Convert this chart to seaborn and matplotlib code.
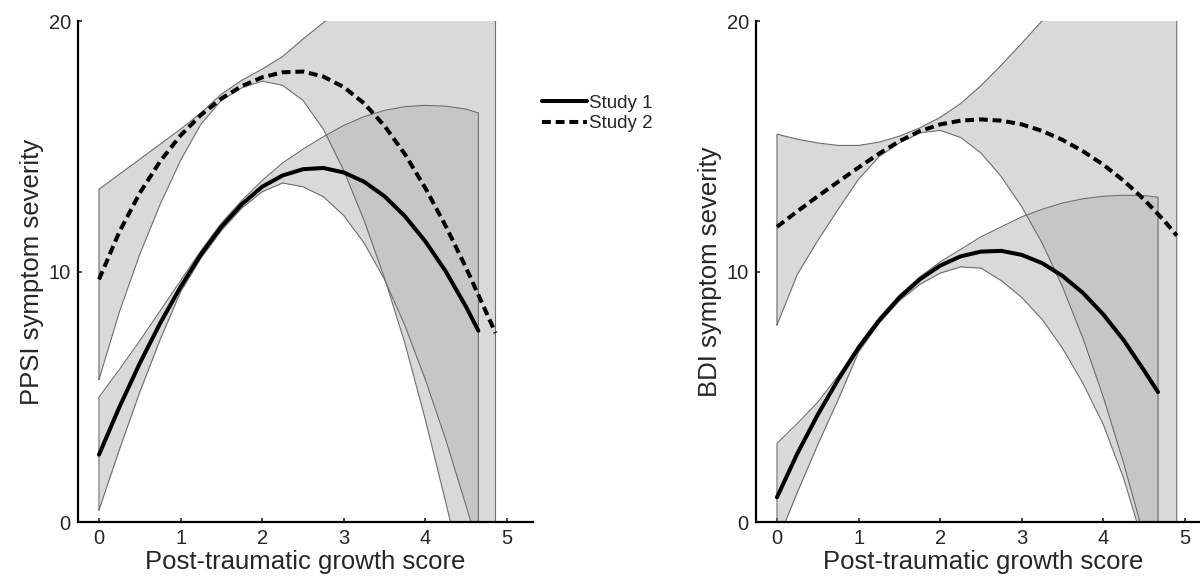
import numpy as np
import pandas as pd
import matplotlib
matplotlib.use("Agg")
import matplotlib.pyplot as plt
import seaborn as sns

# ---------------- data ----------------
# Left panel: PPSI
ppsi_s1_x = [0, 0.25, 0.5, 0.75, 1.0, 1.25, 1.5, 1.75, 2.0, 2.25, 2.5, 2.75, 3.0, 3.25, 3.5, 3.75, 4.0, 4.25, 4.5, 4.65]
ppsi_s1_mean = [2.7, 4.6, 6.35, 7.95, 9.4, 10.7, 11.8, 12.7, 13.4, 13.85, 14.1, 14.15, 13.97, 13.6, 13.02, 12.22, 11.22, 10.02, 8.6, 7.65]
ppsi_s1_upper = [5.0, 6.1, 7.25, 8.45, 9.65, 10.85, 11.95, 12.85, 13.65, 14.35, 14.9, 15.4, 15.85, 16.2, 16.45, 16.6, 16.65, 16.62, 16.5, 16.35]
ppsi_s1_lower = [0.49, 2.9, 5.2, 7.3, 9.2, 10.55, 11.65, 12.55, 13.2, 13.55, 13.4, 13.0, 12.25, 11.15, 9.7, 7.85, 5.7, 3.3, 0.65, -1.0]

ppsi_s2_x = [0, 0.25, 0.5, 0.75, 1.0, 1.25, 1.5, 1.75, 2.0, 2.25, 2.5, 2.75, 3.0, 3.25, 3.5, 3.75, 4.0, 4.25, 4.5, 4.75, 4.86]
ppsi_s2_mean = [9.7, 11.6, 13.15, 14.42, 15.45, 16.27, 16.92, 17.42, 17.77, 17.97, 18.0, 17.8, 17.38, 16.73, 15.83, 14.7, 13.35, 11.83, 10.16, 8.36, 7.56]
ppsi_s2_upper = [13.3, 13.9, 14.5, 15.1, 15.7, 16.35, 17.1, 17.65, 18.1, 18.6, 19.3, 19.95, 20.6, 21.3, 22.0, 22.7, 23.4, 24.1, 24.9, 25.6, 26.0]
ppsi_s2_lower = [5.7, 8.4, 10.7, 12.7, 14.45, 15.9, 16.85, 17.35, 17.62, 17.45, 16.85, 15.7, 14.05, 12.05, 9.75, 7.15, 4.1, 0.8, -2.6, -6.3, -8.0]

# Right panel: BDI
bdi_s1_x = [0, 0.25, 0.5, 0.75, 1.0, 1.25, 1.5, 1.75, 2.0, 2.25, 2.5, 2.75, 3.0, 3.25, 3.5, 3.75, 4.0, 4.25, 4.5, 4.67]
bdi_s1_mean = [1.0, 2.75, 4.3, 5.7, 6.97, 8.05, 8.97, 9.7, 10.25, 10.62, 10.81, 10.84, 10.68, 10.35, 9.84, 9.16, 8.3, 7.27, 6.06, 5.2]
bdi_s1_upper = [3.15, 3.95, 4.8, 5.85, 7.08, 8.17, 9.07, 9.8, 10.4, 10.9, 11.4, 11.8, 12.2, 12.5, 12.75, 12.92, 13.02, 13.06, 13.05, 12.98]
bdi_s1_lower = [-0.8, 1.2, 3.1, 4.9, 6.8, 7.95, 8.85, 9.5, 9.95, 10.2, 10.15, 9.65, 8.98, 8.1, 6.95, 5.55, 3.9, 1.75, -0.95, -2.8]

bdi_s2_x = [0, 0.25, 0.5, 0.75, 1.0, 1.25, 1.5, 1.75, 2.0, 2.25, 2.5, 2.75, 3.0, 3.25, 3.5, 3.75, 4.0, 4.25, 4.5, 4.75, 4.9]
bdi_s2_mean = [11.8, 12.42, 13.02, 13.6, 14.17, 14.72, 15.22, 15.62, 15.89, 16.04, 16.09, 16.04, 15.89, 15.63, 15.27, 14.82, 14.28, 13.64, 12.89, 12.03, 11.45]
bdi_s2_upper = [15.5, 15.3, 15.15, 15.05, 15.05, 15.18, 15.42, 15.75, 16.17, 16.72, 17.44, 18.26, 19.13, 20.03, 21.0, 22.0, 23.1, 24.2, 25.4, 26.6, 27.4]
bdi_s2_lower = [7.88, 9.9, 11.25, 12.5, 13.7, 14.6, 15.15, 15.55, 15.65, 15.37, 14.75, 13.8, 12.6, 11.15, 9.4, 7.35, 5.0, 2.35, -0.6, -3.9, -6.0]

series_labels = ["Study 1", "Study 2"]
x_ticks = [0, 1, 2, 3, 4, 5]
y_ticks = [0, 10, 20]
x_label = "Post-traumatic growth score"
y_labels = ["PPSI symptom severity", "BDI symptom severity"]

# ---------------- style ----------------
sns.set_theme(style="ticks")
plt.rcParams["font.family"] = ["Liberation Sans", "DejaVu Sans"]

fig = plt.figure(figsize=(12, 5.79), dpi=100)
ax_l = fig.add_axes([0.0648, 0.0979, 0.3794, 0.865])
ax_r = fig.add_axes([0.6298, 0.0979, 0.3794, 0.865])

BAND = "#b4b4b4"
EDGE = "#6e6e6e"


def draw_panel(ax, s1, s2, ylabel):
    for (x, m, up, lo) in (s2, s1):
        x = np.asarray(x, float)
        up = np.asarray(up, float)
        lo = np.asarray(lo, float)
        ax.fill_between(x, lo, up, color=BAND, alpha=0.5, lw=0, zorder=1)
        ax.plot(np.r_[x, x[::-1], x[:1]], np.r_[lo, up[::-1], lo[:1]],
                color=EDGE, lw=0.8, zorder=2)
    df1 = pd.DataFrame({"x": s1[0], "y": s1[1]})
    df2 = pd.DataFrame({"x": s2[0], "y": s2[1]})
    sns.lineplot(data=df1, x="x", y="y", ax=ax, color="black", lw=2.9,
                 zorder=4, label=series_labels[0], legend=False)
    sns.lineplot(data=df2, x="x", y="y", ax=ax, color="black", lw=2.9,
                 zorder=4, label=series_labels[1], legend=False)
    ax.lines[-1].set_dashes((2.2, 1.2))
    ax.set_xlim(-0.26, 5.32)
    ax.set_ylim(0, 20)
    ax.set_xticks(x_ticks)
    ax.set_yticks(y_ticks)
    ax.set_xlabel(x_label, fontsize=18.5, labelpad=1)
    ax.set_ylabel(ylabel, fontsize=18.5, labelpad=3)
    ax.tick_params(direction="in", length=3, width=1.2, labelsize=14.5, pad=5)
    for s in ("top", "right"):
        ax.spines[s].set_visible(False)
    for s in ("left", "bottom"):
        ax.spines[s].set_linewidth(1.6)
        ax.spines[s].set_color("black")


draw_panel(ax_l,
           (ppsi_s1_x, ppsi_s1_mean, ppsi_s1_upper, ppsi_s1_lower),
           (ppsi_s2_x, ppsi_s2_mean, ppsi_s2_upper, ppsi_s2_lower),
           y_labels[0])
draw_panel(ax_r,
           (bdi_s1_x, bdi_s1_mean, bdi_s1_upper, bdi_s1_lower),
           (bdi_s2_x, bdi_s2_mean, bdi_s2_upper, bdi_s2_lower),
           y_labels[1])

handles = [ax_l.lines[-2], ax_l.lines[-1]]
fig.legend(handles, series_labels, loc="upper left", bbox_to_anchor=(0.444, 0.853),
           frameon=False, fontsize=13.5, handlelength=2.4, handletextpad=0.1,
           labelspacing=0.2, borderpad=0)

fig.savefig("out.png", dpi=100)
